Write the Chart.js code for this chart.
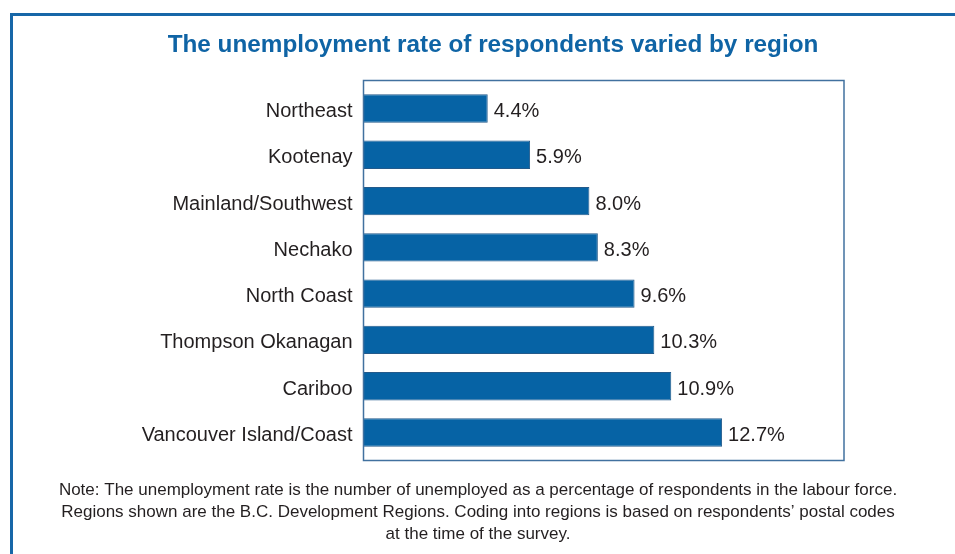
<!DOCTYPE html>
<html>
<head>
<meta charset="utf-8">
<script src="https://cdn.jsdelivr.net/npm/chart.js@4/dist/chart.umd.min.js"></script>
<style>
  html, body { margin: 0; padding: 0; background: #ffffff; }
  #wrap { width: 955px; height: 554px; position: relative; }
</style>
</head>
<body>
<div id="wrap"><canvas id="c" width="955" height="554"></canvas></div>
<script>
// Unemployment rate by B.C. development region (%)
const regions = [
  "Northeast",
  "Kootenay",
  "Mainland/Southwest",
  "Nechako",
  "North Coast",
  "Thompson Okanagan",
  "Cariboo",
  "Vancouver Island/Coast"
];
const rates = [4.4, 5.9, 8.0, 8.3, 9.6, 10.3, 10.9, 12.7];

const titleText = "The unemployment rate of respondents varied by region";
const noteLines = [
  "Note: The unemployment rate is the number of unemployed as a percentage of respondents in the labour force.",
  "Regions shown are the B.C. Development Regions. Coding into regions is based on respondents\u2019 postal codes",
  "at the time of the survey."
];

const BLUE = "#0f64a5";
const TEXT = "#231f20";
const FONT = "'Liberation Sans', Arial, sans-serif";

// Page frame, title, plot box, value labels and the note
const decorations = {
  id: "decorations",
  beforeDraw(chart) {
    const ctx = chart.ctx;
    ctx.save();
    ctx.fillStyle = "#ffffff";
    ctx.fillRect(0, 0, chart.width, chart.height);
    // outer frame
    ctx.strokeStyle = "#1767a8";
    ctx.lineWidth = 3;
    ctx.beginPath();
    ctx.moveTo(11.5, chart.height + 2);
    ctx.lineTo(11.5, 14.5);
    ctx.lineTo(chart.width + 2, 14.5);
    ctx.stroke();
    // title
    ctx.fillStyle = BLUE;
    ctx.font = "bold 24.3px " + FONT;
    ctx.textAlign = "center";
    ctx.textBaseline = "middle";
    ctx.fillText(titleText, 493, 45);
    // note
    ctx.fillStyle = TEXT;
    ctx.font = "17px " + FONT;
    const ys = [490.5, 512.5, 534.5];
    noteLines.forEach((t, i) => ctx.fillText(t, 478, ys[i]));
    ctx.restore();
  },
  afterDatasetsDraw(chart) {
    const ctx = chart.ctx;
    const a = chart.chartArea;
    ctx.save();
    // plot box
    ctx.strokeStyle = "#41719f";
    ctx.lineWidth = 1.5;
    ctx.strokeRect(Math.round(a.left) - 0.5, 80.5, Math.round(a.right) - Math.round(a.left) + 0.5, 380);
    // value labels
    ctx.fillStyle = TEXT;
    ctx.font = "20px " + FONT;
    ctx.textAlign = "left";
    ctx.textBaseline = "middle";
    const meta = chart.getDatasetMeta(0);
    meta.data.forEach((bar, i) => {
      ctx.fillText(rates[i].toFixed(1) + "%", bar.x + 6, bar.y + 3);
    });
    ctx.restore();
  }
};

new Chart(document.getElementById("c"), {
  type: "bar",
  data: {
    labels: regions,
    datasets: [{
      data: rates,
      backgroundColor: "#0663a5",
      borderColor: "#235a8b",
      borderWidth: 1,
      barPercentage: 0.614,
      categoryPercentage: 1.0
    }]
  },
  options: {
    indexAxis: "y",
    responsive: false,
    animation: false,
    layout: { padding: { left: 10, right: 111.5, top: 85.4, bottom: 98.4 } },
    plugins: {
      legend: { display: false },
      title: { display: false },
      tooltip: { enabled: false }
    },
    scales: {
      x: {
        display: false,
        min: 0,
        max: 17
      },
      y: {
        afterFit(scale) { scale.width = 353.5; },
        grid: { display: false, drawTicks: false },
        border: { display: false },
        ticks: {
          color: TEXT,
          padding: 11,
          labelOffset: 3,
          font: { family: FONT, size: 20 }
        }
      }
    }
  },
  plugins: [decorations]
});
</script>
</body>
</html>
